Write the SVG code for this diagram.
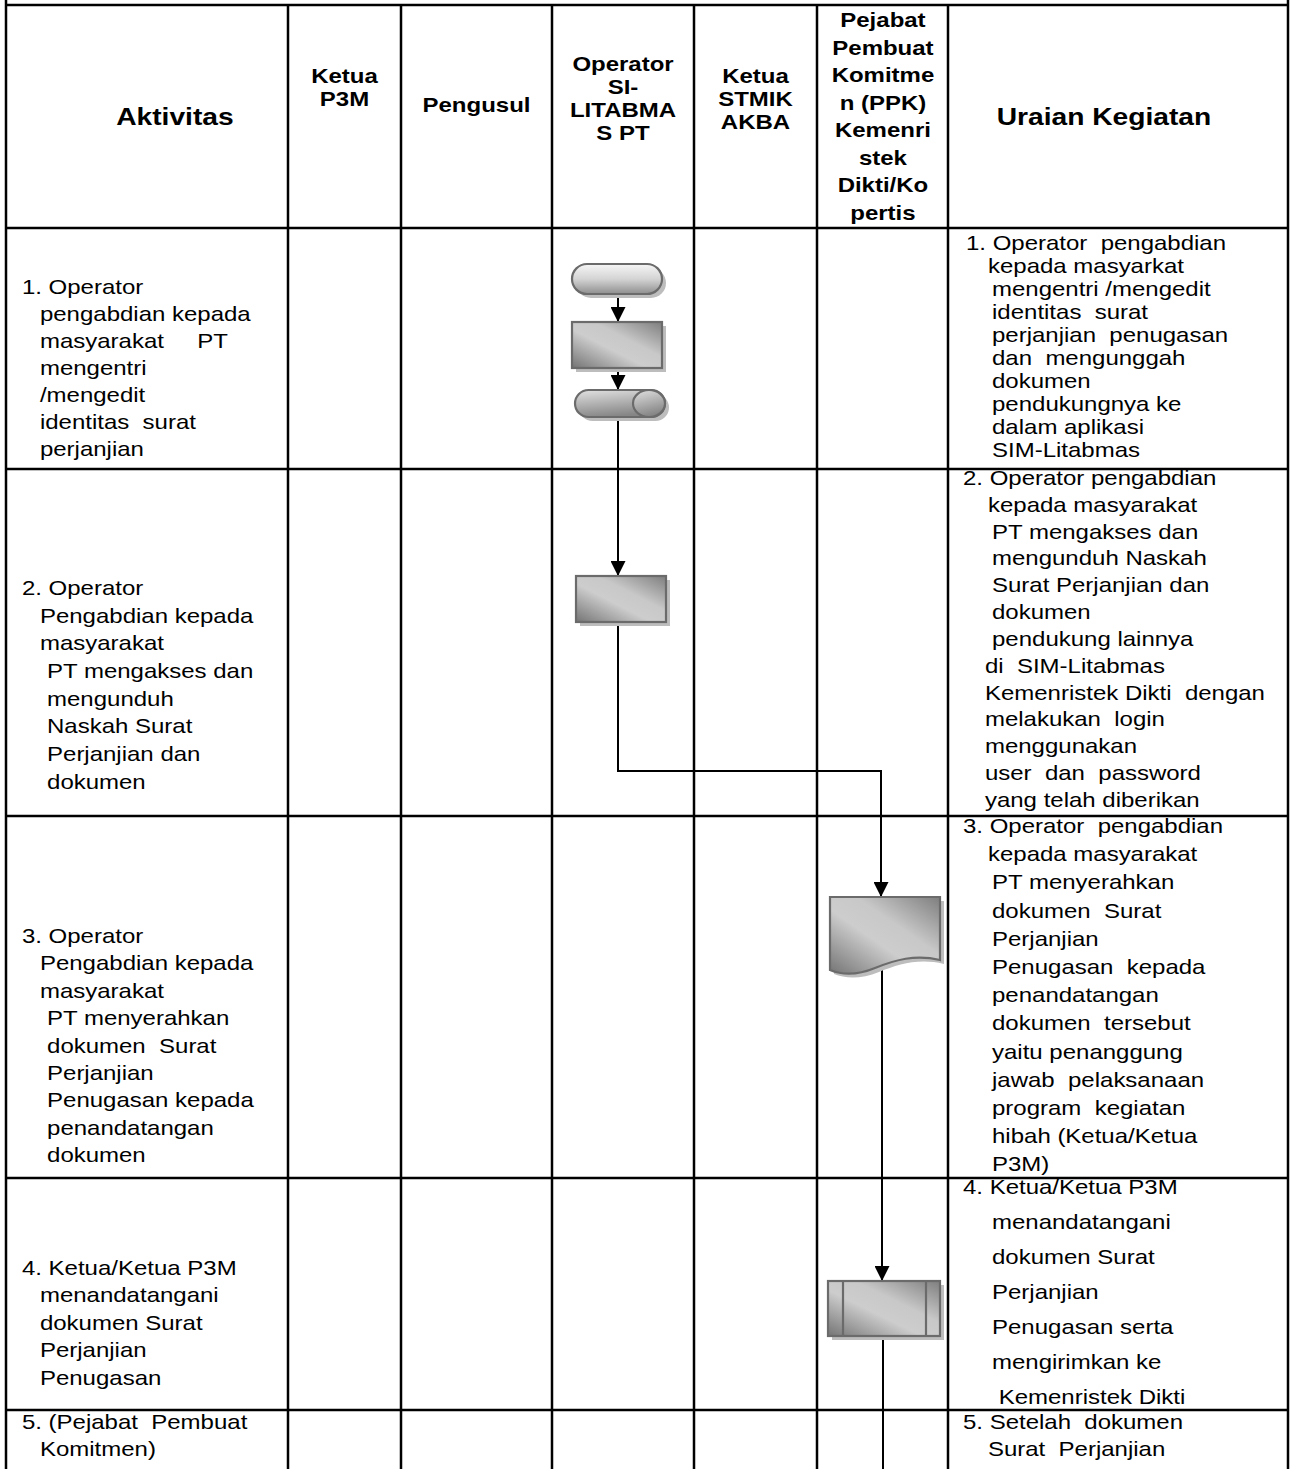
<svg xmlns="http://www.w3.org/2000/svg" width="1292" height="1469" viewBox="0 0 1292 1469">
<style>
.t{font-family:"Liberation Sans",Arial,sans-serif;font-size:20px;fill:#000;white-space:pre}
.h{font-weight:bold;text-anchor:middle}
.hb{font-size:23.5px}
.grid{stroke:#000;stroke-width:2.5;fill:none}
.conn{stroke:#000;stroke-width:2;fill:none}
.shp{stroke:#6b6b6b;stroke-width:2.2}
.shd{fill:#bdbdbd}
</style>
<defs>
<linearGradient id="gPill" x1="0" y1="0" x2="0" y2="1"><stop offset="0" stop-color="#f6f6f6"/><stop offset="0.5" stop-color="#d4d4d4"/><stop offset="1" stop-color="#8e8e8e"/></linearGradient>
<linearGradient id="gCyl" x1="0" y1="0" x2="0.3" y2="1"><stop offset="0" stop-color="#e2e2e2"/><stop offset="0.5" stop-color="#b4b4b4"/><stop offset="1" stop-color="#868686"/></linearGradient>
<linearGradient id="gMetal" x1="0" y1="1" x2="1" y2="0"><stop offset="0" stop-color="#747474"/><stop offset="0.42" stop-color="#cdcdcd"/><stop offset="0.62" stop-color="#c8c8c8"/><stop offset="1" stop-color="#7e7e7e"/></linearGradient>
<marker id="arr" viewBox="0 0 10 10" refX="10" refY="5" markerWidth="15" markerHeight="15" markerUnits="userSpaceOnUse" orient="auto"><path d="M0,0 L10,5 L0,10 z" fill="#000"/></marker>
</defs>
<rect width="1292" height="1469" fill="#fff"/>

<g id="table">
<path class="grid" d="M6,0 V1469 M1288,0 V1469 M288,5 V1469 M401,5 V1469 M552,5 V1469 M694,5 V1469 M817,5 V1469 M948,5 V1469"/>
<path class="grid" d="M6,5 H1288 M6,228 H1288 M6,469 H1288 M6,816 H1288 M6,1178 H1288 M6,1410 H1288"/>
</g>

<g id="header" transform="scale(1.2 1)">
<text class="t h hb" x="145.8" y="125.5">Aktivitas</text>
<text class="t h"><tspan x="287.1" y="83">Ketua</tspan><tspan x="287.1" y="106">P3M</tspan></text>
<text class="t h" x="397.1" y="112">Pengusul</text>
<text class="t h"><tspan x="519.2" y="71">Operator</tspan><tspan x="519.2" y="94">SI-</tspan><tspan x="519.2" y="117">LITABMA</tspan><tspan x="519.2" y="140">S PT</tspan></text>
<text class="t h"><tspan x="629.6" y="83">Ketua</tspan><tspan x="629.6" y="106">STMIK</tspan><tspan x="629.6" y="129">AKBA</tspan></text>
<text class="t h"><tspan x="735.8" y="27">Pejabat</tspan><tspan x="735.8" y="54.6">Pembuat</tspan><tspan x="735.8" y="82.1">Komitme</tspan><tspan x="735.8" y="109.7">n (PPK)</tspan><tspan x="735.8" y="137.3">Kemenri</tspan><tspan x="735.8" y="164.9">stek</tspan><tspan x="735.8" y="192.4">Dikti/Ko</tspan><tspan x="735.8" y="220">pertis</tspan></text>
<text class="t h hb" x="920" y="125.5">Uraian Kegiatan</text>
</g>

<g id="aktivitas" transform="scale(1.2 1)">
<text class="t" xml:space="preserve"><tspan x="18.3" y="294">1. Operator</tspan><tspan x="33.3" y="321">pengabdian kepada</tspan><tspan x="33.3" y="348">masyarakat     PT</tspan><tspan x="33.3" y="375">mengentri</tspan><tspan x="33.3" y="402">/mengedit</tspan><tspan x="33.3" y="429">identitas  surat</tspan><tspan x="33.3" y="456">perjanjian</tspan></text>
<text class="t" xml:space="preserve"><tspan x="18.3" y="595">2. Operator</tspan><tspan x="33.3" y="622.7">Pengabdian kepada</tspan><tspan x="33.3" y="650.4">masyarakat</tspan><tspan x="39.2" y="678.1">PT mengakses dan</tspan><tspan x="39.2" y="705.8">mengunduh</tspan><tspan x="39.2" y="733.5">Naskah Surat</tspan><tspan x="39.2" y="761.2">Perjanjian dan</tspan><tspan x="39.2" y="788.9">dokumen</tspan></text>
<text class="t" xml:space="preserve"><tspan x="18.3" y="943">3. Operator</tspan><tspan x="33.3" y="970.4">Pengabdian kepada</tspan><tspan x="33.3" y="997.8">masyarakat</tspan><tspan x="39.2" y="1025.2">PT menyerahkan</tspan><tspan x="39.2" y="1052.6">dokumen  Surat</tspan><tspan x="39.2" y="1080">Perjanjian</tspan><tspan x="39.2" y="1107.4">Penugasan kepada</tspan><tspan x="39.2" y="1134.8">penandatangan</tspan><tspan x="39.2" y="1162.2">dokumen</tspan></text>
<text class="t" xml:space="preserve"><tspan x="18.3" y="1275">4. Ketua/Ketua P3M</tspan><tspan x="33.3" y="1302.5">menandatangani</tspan><tspan x="33.3" y="1330">dokumen Surat</tspan><tspan x="33.3" y="1357.5">Perjanjian</tspan><tspan x="33.3" y="1385">Penugasan</tspan></text>
<text class="t" xml:space="preserve"><tspan x="18.3" y="1429">5. (Pejabat  Pembuat</tspan><tspan x="33.3" y="1456">Komitmen)</tspan></text>
</g>

<g id="uraian" transform="scale(1.2 1)">
<text class="t" xml:space="preserve"><tspan x="805" y="250">1. Operator  pengabdian</tspan><tspan x="823.3" y="273">kepada masyarkat</tspan><tspan x="826.7" y="296">mengentri /mengedit</tspan><tspan x="826.7" y="319">identitas  surat</tspan><tspan x="826.7" y="342">perjanjian  penugasan</tspan><tspan x="826.7" y="365">dan  mengunggah</tspan><tspan x="826.7" y="388">dokumen</tspan><tspan x="826.7" y="411">pendukungnya ke</tspan><tspan x="826.7" y="434">dalam aplikasi</tspan><tspan x="826.7" y="457">SIM-Litabmas</tspan></text>
<text class="t" xml:space="preserve"><tspan x="802.5" y="485">2. Operator pengabdian</tspan><tspan x="823.3" y="511.8">kepada masyarakat</tspan><tspan x="826.7" y="538.7">PT mengakses dan</tspan><tspan x="826.7" y="565.5">mengunduh Naskah</tspan><tspan x="826.7" y="592.3">Surat Perjanjian dan</tspan><tspan x="826.7" y="619.2">dokumen</tspan><tspan x="826.7" y="646">pendukung lainnya</tspan><tspan x="820.8" y="672.8">di  SIM-Litabmas</tspan><tspan x="820.8" y="699.7">Kemenristek Dikti  dengan</tspan><tspan x="820.8" y="726.5">melakukan  login</tspan><tspan x="820.8" y="753.3">menggunakan</tspan><tspan x="820.8" y="780.2">user  dan  password</tspan><tspan x="820.8" y="807">yang telah diberikan</tspan></text>
<text class="t" xml:space="preserve"><tspan x="802.5" y="833">3. Operator  pengabdian</tspan><tspan x="823.3" y="861.2">kepada masyarakat</tspan><tspan x="826.7" y="889.4">PT menyerahkan</tspan><tspan x="826.7" y="917.6">dokumen  Surat</tspan><tspan x="826.7" y="945.8">Perjanjian</tspan><tspan x="826.7" y="974">Penugasan  kepada</tspan><tspan x="826.7" y="1002.2">penandatangan</tspan><tspan x="826.7" y="1030.4">dokumen  tersebut</tspan><tspan x="826.7" y="1058.6">yaitu penanggung</tspan><tspan x="826.7" y="1086.8">jawab  pelaksanaan</tspan><tspan x="826.7" y="1115">program  kegiatan</tspan><tspan x="826.7" y="1143.2">hibah (Ketua/Ketua</tspan><tspan x="826.7" y="1171.4">P3M)</tspan></text>
<text class="t" xml:space="preserve"><tspan x="802.5" y="1194">4. Ketua/Ketua P3M</tspan><tspan x="826.7" y="1229">menandatangani</tspan><tspan x="826.7" y="1264">dokumen Surat</tspan><tspan x="826.7" y="1299">Perjanjian</tspan><tspan x="826.7" y="1334">Penugasan serta</tspan><tspan x="826.7" y="1369">mengirimkan ke</tspan><tspan x="826.7" y="1404"> Kemenristek Dikti</tspan></text>
<text class="t" xml:space="preserve"><tspan x="802.5" y="1429">5. Setelah  dokumen</tspan><tspan x="823.3" y="1456">Surat  Perjanjian</tspan></text>
</g>

<g id="connectors">
<path class="conn" d="M618,293 V322" marker-end="url(#arr)"/>
<path class="conn" d="M618,368 V390" marker-end="url(#arr)"/>
<path class="conn" d="M618,417 V576" marker-end="url(#arr)"/>
<path class="conn" d="M618,622 V771 H881 V897" marker-end="url(#arr)"/>
<path class="conn" d="M882,966 V1281" marker-end="url(#arr)"/>
<path class="conn" d="M883,1336 V1469"/>
</g>

<g id="start">
<rect class="shd" x="576" y="268" width="90" height="30" rx="15"/>
<rect class="shp" x="572" y="264" width="90" height="30" rx="15" fill="url(#gPill)"/>
</g>
<g id="proses-entri">
<rect class="shd" x="576" y="326" width="90" height="46"/>
<rect class="shp" x="572" y="322" width="90" height="46" fill="url(#gMetal)"/>
</g>
<g id="simpan-data">
<rect class="shd" x="579" y="394" width="90" height="27" rx="13.5"/>
<rect class="shp" x="575" y="390" width="90" height="27" rx="13.5" fill="url(#gCyl)"/>
<ellipse class="shp" cx="649" cy="403.5" rx="16" ry="13.5" fill="url(#gCyl)"/>
</g>
<g id="proses-unduh">
<rect class="shd" x="580" y="580" width="90" height="46"/>
<rect class="shp" x="576" y="576" width="90" height="46" fill="url(#gMetal)"/>
</g>
<g id="dokumen">
<path class="shd" d="M834,901 H944 V964 C919,958 899,964 879,972 C862,979 846,979 834,974 Z"/>
<path class="shp" d="M830,897 H940 V960 C915,954 895,960 875,968 C858,975 842,975 830,970 Z" fill="url(#gMetal)"/>
</g>
<g id="tanda-tangan">
<rect class="shd" x="832" y="1285" width="112" height="55"/>
<rect class="shp" x="828" y="1281" width="112" height="55" fill="url(#gMetal)"/>
<path class="shp" d="M843,1281 V1336 M926,1281 V1336" fill="none"/>
</g>
</svg>
